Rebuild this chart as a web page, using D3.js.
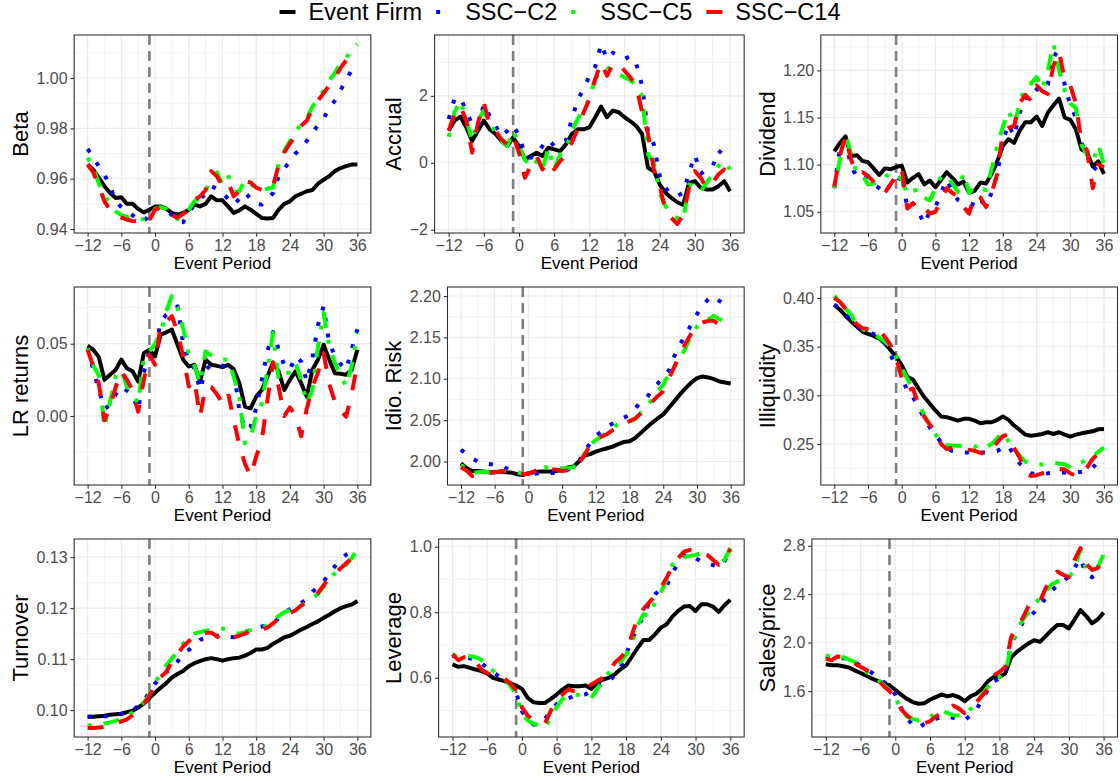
<!DOCTYPE html>
<html>
<head>
<meta charset="utf-8">
<script src="https://cdn.jsdelivr.net/npm/d3@7"></script>
<style>
  body { margin: 0; background: #fff; }
  svg { display: block; font-family: "Liberation Sans", Arial, Helvetica, sans-serif; }
</style>
</head>
<body>
<div id="chart"></div>
<script>
// ---- data ----
var periods = d3.range(-12, 37)
var xTicks = [-12, -6, 0, 6, 12, 18, 24, 30, 36]
var seriesNames = ["Event Firm", "SSC\u2212C2", "SSC\u2212C5", "SSC\u2212C14"]

var betaFirm = [0.9656,0.9636,0.9603,0.9570,0.9543,0.9523,0.9526,0.9500,0.9500,0.9480, 0.9466,0.9477,0.9490,0.9490,0.9480,0.9464,0.9457,0.9464,0.9477,0.9497, 0.9490,0.9500,0.9530,0.9514,0.9514,0.9490,0.9464,0.9474,0.9490,0.9477, 0.9460,0.9444,0.9442,0.9444,0.9477,0.9500,0.9510,0.9530,0.9540,0.9550, 0.9555,0.9580,0.9596,0.9610,0.9630,0.9642,0.9650,0.9656,0.9656]
var betaC2 = [0.9718,0.9685,0.9648,0.9615,0.9570,0.9510,0.9487,0.9468,0.9455,0.9435, 0.9432,0.9455,0.9477,0.9487,0.9477,0.9455,0.9430,0.9427,0.9465,0.9497, 0.9520,0.9540,0.9570,0.9560,0.9543,0.9520,0.9497,0.9520,0.9546,0.9520, 0.9500,0.9497,0.9520,0.9543,0.9610,0.9640,0.9670,0.9700,0.9720,0.9750, 0.9780,0.9815,0.9840,0.9880,0.9910,0.9950,0.9995,1.0030,1.0050]
var betaC5 = [0.9683,0.9645,0.9580,0.9535,0.9500,0.9470,0.9455,0.9448,0.9440,0.9435, 0.9440,0.9445,0.9480,0.9487,0.9480,0.9455,0.9440,0.9455,0.9477,0.9510, 0.9525,0.9550,0.9605,0.9625,0.9580,0.9615,0.9545,0.9550,0.9595,0.9580, 0.9560,0.9555,0.9560,0.9565,0.9660,0.9710,0.9750,0.9780,0.9825,0.9840, 0.9885,0.9920,0.9950,0.9990,1.0020,1.0060,1.0080,1.0110,1.0135]
var betaC14 = [0.9656,0.9625,0.9570,0.9510,0.9475,0.9455,0.9445,0.9437,0.9432,0.9430, 0.9420,0.9435,0.9477,0.9487,0.9475,0.9455,0.9445,0.9460,0.9477,0.9515, 0.9530,0.9555,0.9630,0.9610,0.9570,0.9585,0.9530,0.9550,0.9590,0.9585, 0.9565,0.9555,0.9555,0.9570,0.9655,0.9705,0.9740,0.9770,0.9810,0.9830, 0.9880,0.9910,0.9940,0.9970,1.0000,1.0040,1.0070,1.0095,1.0110]

var accFirm = [0.96,1.26,1.38,1.06,0.65,0.96,1.26,1.00,0.86,0.65, 0.50,0.75,0.50,0.10,0.20,0.30,0.20,0.45,0.40,0.35, 0.55,0.86,1.00,1.00,1.06,1.36,1.68,1.36,1.56,1.51, 1.36,1.24,1.10,0.86,-0.15,-0.25,-0.65,-0.90,-1.05,-1.18, -1.26,-0.60,-0.55,-0.75,-0.80,-0.80,-0.70,-0.55,-0.85]
var accC2 = [1.31,1.91,1.94,1.55,1.15,1.05,1.75,1.40,1.10,0.80, 0.95,1.13,0.80,0.25,0.15,0.25,0.50,0.70,0.50,0.62, 0.67,1.30,1.89,2.20,2.60,2.87,3.55,3.10,3.29,3.20, 3.10,3.19,2.95,2.30,0.90,0.55,-0.40,-0.75,-0.95,-0.99, -0.90,-0.30,0.23,-0.33,-0.20,-0.13,0.37,0.22,0.20]
var accC5 = [0.78,1.51,1.86,1.31,0.65,1.26,1.56,1.20,0.90,0.65, 0.50,0.96,0.50,0.10,-0.15,0.05,-0.20,0.45,-0.20,0.25, 0.40,0.96,1.30,1.60,1.90,2.52,2.70,2.87,2.70,2.65, 2.55,2.47,2.30,2.00,0.25,0.00,-0.90,-1.30,-1.56,-1.65, -1.71,-0.65,-0.70,-0.86,-0.60,-0.35,-0.10,0.05,-0.20]
var accC14 = [0.96,1.45,1.68,1.26,0.30,1.20,1.80,1.10,0.96,0.70, 0.55,0.80,0.30,-0.45,-0.10,0.20,-0.20,0.05,-0.20,0.05, 0.20,0.60,1.00,1.50,1.90,2.50,3.00,2.60,2.95,2.97, 2.75,2.55,2.30,1.50,0.86,-0.20,-0.70,-1.45,-1.65,-1.83, -1.55,-0.75,-0.25,-0.45,-0.75,-0.60,-0.35,-0.20,-0.45]

var divFirm = [1.114,1.123,1.130,1.109,1.110,1.104,1.1025,1.096,1.089,1.096, 1.095,1.0975,1.099,1.081,1.086,1.090,1.079,1.083,1.076,1.084, 1.092,1.086,1.079,1.082,1.070,1.0725,1.081,1.080,1.090,1.1035, 1.120,1.127,1.123,1.136,1.145,1.145,1.151,1.141,1.155,1.163, 1.170,1.150,1.1475,1.1375,1.116,1.113,1.098,1.1035,1.090]
var divC2 = [1.075,1.118,1.125,1.098,1.0875,1.090,1.085,1.079,1.075,1.070, 1.079,1.078,1.090,1.0535,1.059,1.050,1.037,1.050,1.055,1.070, 1.084,1.072,1.0625,1.060,1.0465,1.065,1.062,1.057,1.070,1.090, 1.125,1.143,1.130,1.155,1.171,1.170,1.180,1.178,1.185,1.218, 1.215,1.185,1.1625,1.150,1.123,1.110,1.093,1.100,1.107]
var divC5 = [1.075,1.105,1.132,1.111,1.091,1.089,1.079,1.080,1.081,1.086, 1.092,1.088,1.085,1.068,1.072,1.074,1.065,1.062,1.075,1.0875, 1.089,1.080,1.071,1.091,1.070,1.077,1.075,1.073,1.095,1.120, 1.140,1.157,1.141,1.165,1.184,1.186,1.193,1.180,1.200,1.228, 1.200,1.179,1.165,1.160,1.121,1.110,1.102,1.121,1.100]
var divC14 = [1.077,1.110,1.130,1.105,1.090,1.092,1.088,1.082,1.075,1.070, 1.079,1.088,1.096,1.0535,1.059,1.052,1.055,1.048,1.050,1.062, 1.075,1.070,1.066,1.055,1.048,1.068,1.065,1.055,1.070,1.090, 1.135,1.139,1.141,1.165,1.174,1.168,1.184,1.178,1.175,1.205, 1.220,1.190,1.184,1.165,1.123,1.115,1.075,1.100,1.0975]

var lrFirm = [0.0486,0.0458,0.0407,0.0250,0.0285,0.0320,0.0390,0.0330,0.0310,0.0238, 0.0435,0.0458,0.0412,0.0563,0.0579,0.0597,0.0493,0.0390,0.0343,0.0354, 0.0238,0.0390,0.0354,0.0347,0.0338,0.0354,0.0324,0.0227,0.0065,0.0053, 0.0134,0.0180,0.0273,0.0370,0.0308,0.0180,0.0250,0.0308,0.0227,0.0134, 0.0320,0.0390,0.0493,0.0390,0.0296,0.0292,0.0285,0.0320,0.0458]
var lrC2 = [0.047,0.032,0.018,0.005,0.0076,0.015,0.0204,0.0175,0.0146,0.004, 0.030,0.0447,0.044,0.0655,0.070,0.073,0.0759,0.050,0.0377,0.033, 0.018,0.032,0.0354,0.035,0.0347,0.034,0.032,0.004,-0.0097,-0.0074, 0.0053,0.025,0.045,0.058,0.046,0.035,0.032,0.0412,0.0377,0.024, 0.040,0.063,0.0759,0.050,0.042,0.036,0.032,0.046,0.060]
var lrC5 = [0.047,0.035,0.028,-0.008,0.010,0.028,0.032,0.0204,0.015,0.0088, 0.040,0.0447,0.050,0.0574,0.0725,0.083,0.0748,0.0609,0.0424,0.035, 0.0227,0.0447,0.042,0.040,0.039,0.039,0.0273,0.0134,-0.019,-0.0143, 0.000,0.0088,0.032,0.0574,0.025,0.0296,0.030,0.0366,0.025,0.0088, 0.018,0.048,0.0713,0.048,0.0366,0.028,0.0204,0.035,0.0574]
var lrC14 = [0.0458,0.0343,0.022,-0.003,0.0065,0.020,0.031,0.025,0.018,0.003, 0.025,0.0424,0.0354,0.0632,0.0655,0.069,0.058,0.0412,0.0204,0.025, -0.0005,0.0204,0.020,0.015,0.0088,0.0157,-0.0028,-0.020,-0.033,-0.0415, -0.028,-0.0167,0.0111,0.037,0.020,0.000,0.006,0.000,-0.014,0.005, 0.020,0.030,0.0435,0.022,0.010,0.004,-0.0005,0.015,0.037]

var idioFirm = [1.998,1.992,1.9886,1.9886,1.988,1.987,1.987,1.988,1.987,1.9866, 1.9846,1.9837,1.9858,1.987,1.988,1.988,1.988,1.9886,1.990,1.9927, 1.994,2.000,2.0073,2.009,2.012,2.014,2.016,2.018,2.021,2.0236, 2.0244,2.0285,2.0346,2.0407,2.0467,2.052,2.057,2.065,2.073,2.0813, 2.0886,2.0955,2.1008,2.1028,2.1016,2.0996,2.0967,2.0955,2.0943]
var idioC2 = [2.0142,2.009,2.004,2.000,1.998,1.997,1.996,1.995,1.992,1.988, 1.9846,1.9846,1.9846,1.985,1.986,1.986,1.986,1.986,1.988,1.990, 1.995,2.000,2.013,2.022,2.031,2.036,2.042,2.046,2.050,2.053, 2.056,2.064,2.072,2.076,2.087,2.094,2.102,2.110,2.128,2.142, 2.153,2.166,2.178,2.188,2.196,2.200,2.194,2.190,2.188]
var idioC5 = [1.996,1.990,1.9865,1.987,1.988,1.987,1.9875,1.988,1.9886,1.9886, 1.987,1.985,1.985,1.9886,1.992,1.993,1.992,1.991,1.992,1.992, 1.993,2.000,2.010,2.020,2.026,2.030,2.035,2.040,2.046,2.047, 2.048,2.051,2.059,2.064,2.076,2.085,2.093,2.106,2.115,2.124, 2.138,2.152,2.163,2.168,2.172,2.176,2.172,2.168,2.166]
var idioC14 = [1.993,1.989,1.9825,1.984,1.9846,1.986,1.987,1.988,1.9886,1.988, 1.986,1.985,1.985,1.988,1.991,1.9915,1.991,1.990,1.9886,1.9893, 1.990,1.998,2.008,2.020,2.027,2.030,2.033,2.038,2.041,2.046, 2.049,2.052,2.058,2.066,2.072,2.079,2.085,2.100,2.115,2.130, 2.143,2.155,2.165,2.168,2.170,2.170,2.165,2.162,2.160]

var illFirm = [0.3931,0.388,0.3817,0.3759,0.3707,0.3655,0.3631,0.361,0.3583,0.3534, 0.3466,0.3397,0.331,0.319,0.3162,0.3069,0.2983,0.2914,0.2845,0.2783, 0.2776,0.2759,0.2741,0.2759,0.2759,0.2741,0.2714,0.2724,0.2724,0.2748, 0.2783,0.2748,0.269,0.2645,0.2597,0.2586,0.2593,0.2603,0.2621,0.2603, 0.2621,0.2597,0.2576,0.2597,0.261,0.2621,0.2631,0.2652,0.2655]
var illC2 = [0.3931,0.389,0.383,0.3776,0.372,0.366,0.3645,0.363,0.362,0.353, 0.341,0.332,0.322,0.303,0.298,0.288,0.276,0.267,0.259,0.252, 0.246,0.243,0.2425,0.2414,0.2414,0.2414,0.2414,0.2414,0.242,0.243, 0.246,0.2483,0.238,0.230,0.225,0.220,0.219,0.2195,0.220,0.2207, 0.2207,0.2207,0.2207,0.2207,0.2215,0.2225,0.2259,0.232,0.238]
var illC5 = [0.402,0.396,0.389,0.383,0.3707,0.368,0.366,0.3638,0.359,0.3552, 0.350,0.340,0.3276,0.3172,0.305,0.294,0.2793,0.270,0.260,0.251, 0.249,0.2485,0.2483,0.248,0.2475,0.247,0.250,0.247,0.250,0.256, 0.2621,0.253,0.2448,0.238,0.232,0.230,0.2293,0.229,0.230,0.231, 0.230,0.2293,0.226,0.228,0.231,0.2345,0.238,0.242,0.2466]
var illC14 = [0.400,0.396,0.389,0.380,0.373,0.369,0.368,0.3675,0.3672,0.360, 0.3517,0.3379,0.318,0.305,0.3069,0.290,0.278,0.270,0.262,0.250, 0.2448,0.2466,0.2466,0.245,0.244,0.2431,0.241,0.2397,0.243,0.252, 0.258,0.260,0.246,0.236,0.220,0.2172,0.218,0.220,0.222,0.223, 0.224,0.2241,0.220,0.2172,0.219,0.226,0.235,0.240,0.2414]

var toFirm = [0.0987,0.0987,0.0988,0.0989,0.0991,0.0992,0.0993,0.0996,0.0999,0.1005, 0.1013,0.1024,0.1034,0.1044,0.1053,0.1064,0.1071,0.1077,0.1086,0.1092, 0.1096,0.1100,0.1102,0.1100,0.1097,0.1100,0.1102,0.1103,0.1107,0.1112, 0.1119,0.1119,0.1122,0.1130,0.1136,0.1143,0.1146,0.1152,0.1158,0.1163, 0.1169,0.1174,0.1181,0.1187,0.1194,0.1200,0.1204,0.1207,0.1214]
var toC2 = [0.0987,0.0987,0.0987,0.0988,0.0988,0.0990,0.0993,0.0996,0.1000,0.1008, 0.1018,0.1035,0.1052,0.1065,0.1075,0.1080,0.1095,0.1110,0.1118,0.1128, 0.1138,0.1142,0.1145,0.1146,0.1146,0.1144,0.1143,0.1148,0.1153,0.1158, 0.1162,0.1164,0.1166,0.1170,0.1180,0.1192,0.1198,0.1204,0.1210,0.1218, 0.1232,0.1242,0.1252,0.1268,0.1282,0.1295,0.1305,0.1310,0.1312]
var toC5 = [0.0970,0.0971,0.0972,0.0974,0.0976,0.0979,0.0983,0.0988,0.0996,0.1005, 0.1015,0.1030,0.1055,0.1070,0.1088,0.1101,0.1117,0.1130,0.1142,0.1150, 0.1153,0.1156,0.1158,0.1160,0.1160,0.1157,0.1152,0.1150,0.1153,0.1157, 0.1160,0.1163,0.1166,0.1175,0.1185,0.1192,0.1196,0.1200,0.1205,0.1212, 0.1220,0.1228,0.1242,0.1258,0.1268,0.1277,0.1285,0.1298,0.1316]
var toC14 = [0.0965,0.0965,0.0966,0.0967,0.0970,0.0974,0.0978,0.0982,0.0990,0.0998, 0.1012,0.1028,0.1050,0.1065,0.1075,0.1095,0.1110,0.1125,0.1135,0.1145, 0.1150,0.1152,0.1152,0.1145,0.1136,0.1138,0.1143,0.1146,0.1150,0.1155, 0.1160,0.1158,0.1162,0.1170,0.1180,0.1185,0.1190,0.1196,0.1205,0.1213, 0.1222,0.1230,0.1245,0.1260,0.1268,0.1278,0.1288,0.1298,0.1318]

var levFirm = [0.6408,0.6337,0.6357,0.6306,0.6255,0.6204,0.6133,0.600,0.5949,0.5898, 0.5827,0.5765,0.5663,0.5388,0.5255,0.5235,0.5235,0.5357,0.549,0.5643, 0.5765,0.5745,0.5745,0.5765,0.5663,0.5847,0.5949,0.600,0.6102,0.6255, 0.6378,0.6643,0.6918,0.7153,0.7153,0.7327,0.7531,0.7633,0.7867,0.8041, 0.8173,0.8194,0.8041,0.8245,0.8245,0.8173,0.801,0.8214,0.8378]
var levC2 = [0.668,0.662,0.662,0.660,0.655,0.645,0.630,0.618,0.605,0.600, 0.580,0.555,0.498,0.475,0.457,0.460,0.475,0.500,0.520,0.5286, 0.537,0.545,0.547,0.550,0.560,0.575,0.580,0.585,0.610,0.6306, 0.670,0.720,0.750,0.790,0.830,0.855,0.870,0.880,0.920,0.950, 0.970,0.980,0.965,0.955,0.950,0.944,0.938,0.955,0.990]
var levC5 = [0.6714,0.665,0.666,0.666,0.663,0.655,0.6357,0.622,0.6102,0.598, 0.575,0.550,0.490,0.470,0.460,0.455,0.447,0.480,0.510,0.535, 0.547,0.549,0.548,0.544,0.539,0.565,0.595,0.615,0.635,0.648, 0.670,0.707,0.760,0.794,0.789,0.830,0.860,0.900,0.945,0.960, 0.968,0.972,0.975,0.980,0.975,0.960,0.945,0.960,0.996]
var levC14 = [0.6714,0.654,0.663,0.666,0.650,0.625,0.615,0.606,0.605,0.597, 0.583,0.562,0.510,0.485,0.470,0.4622,0.4622,0.500,0.535,0.549, 0.5643,0.5595,0.560,0.565,0.580,0.590,0.600,0.615,0.645,0.6612, 0.680,0.730,0.785,0.810,0.830,0.850,0.875,0.905,0.940,0.965, 0.985,0.990,0.987,0.984,0.975,0.960,0.945,0.960,0.993]

var spFirm = [1.821,1.813,1.813,1.805,1.794,1.771,1.749,1.727,1.702,1.683, 1.666,1.647,1.611,1.570,1.536,1.509,1.495,1.500,1.528,1.550, 1.572,1.556,1.567,1.550,1.517,1.556,1.578,1.619,1.680,1.716, 1.716,1.744,1.876,1.923,1.959,1.993,2.020,2.006,2.053,2.103, 2.145,2.145,2.117,2.192,2.269,2.219,2.158,2.192,2.247]
var spC2 = [1.868,1.875,1.875,1.870,1.868,1.840,1.810,1.785,1.750,1.710, 1.675,1.650,1.570,1.460,1.380,1.320,1.295,1.330,1.355,1.370, 1.385,1.390,1.380,1.365,1.360,1.400,1.445,1.530,1.610,1.680, 1.702,1.750,1.980,2.080,2.160,2.210,2.250,2.300,2.370,2.430, 2.470,2.500,2.550,2.620,2.695,2.560,2.540,2.570,2.590]
var spC5 = [1.888,1.892,1.896,1.880,1.860,1.840,1.800,1.758,1.730,1.694, 1.650,1.611,1.550,1.450,1.390,1.370,1.357,1.360,1.384,1.420, 1.440,1.420,1.400,1.398,1.398,1.450,1.500,1.570,1.633,1.700, 1.716,1.744,1.965,2.103,2.186,2.250,2.310,2.370,2.421,2.480, 2.504,2.520,2.532,2.620,2.767,2.600,2.620,2.628,2.725]
var spC14 = [1.868,1.854,1.885,1.882,1.860,1.827,1.800,1.775,1.740,1.694, 1.640,1.600,1.550,1.450,1.400,1.360,1.335,1.335,1.350,1.390, 1.420,1.440,1.481,1.455,1.417,1.470,1.509,1.560,1.619,1.730, 1.758,1.799,2.040,2.145,2.200,2.300,2.352,2.340,2.450,2.546, 2.587,2.560,2.540,2.684,2.781,2.650,2.600,2.615,2.698]

// y breaks of each panel
var betaTicks = [0.94, 0.96, 0.98, 1.00]
var accTicks = [-2, 0, 2]
var divTicks = [1.05, 1.10, 1.15, 1.20]
var lrTicks = [0.00, 0.05]
var idioTicks = [2.00, 2.05, 2.10, 2.15, 2.20]
var illTicks = [0.25, 0.30, 0.35, 0.40]
var toTicks = [0.10, 0.11, 0.12, 0.13]
var levTicks = [0.6, 0.8, 1.0]
var spTicks = [1.6, 2.0, 2.4, 2.8]

var panels = [
  { label: "Beta", ticks: betaTicks, fmt: ".2f", series: [betaFirm, betaC2, betaC5, betaC14] },
  { label: "Accrual", ticks: accTicks, fmt: ".0f", series: [accFirm, accC2, accC5, accC14] },
  { label: "Dividend", ticks: divTicks, fmt: ".2f", series: [divFirm, divC2, divC5, divC14] },
  { label: "LR returns", ticks: lrTicks, fmt: ".2f", series: [lrFirm, lrC2, lrC5, lrC14] },
  { label: "Idio. Risk", ticks: idioTicks, fmt: ".2f", series: [idioFirm, idioC2, idioC5, idioC14] },
  { label: "Illiquidity", ticks: illTicks, fmt: ".2f", series: [illFirm, illC2, illC5, illC14] },
  { label: "Turnover", ticks: toTicks, fmt: ".2f", series: [toFirm, toC2, toC5, toC14] },
  { label: "Leverage", ticks: levTicks, fmt: ".1f", series: [levFirm, levC2, levC5, levC14] },
  { label: "Sales/price", ticks: spTicks, fmt: ".1f", series: [spFirm, spC2, spC5, spC14] }
]

// ---- styles ----
var lineStyles = [
  { color: "#000000", dash: null },
  { color: "#0000FF", dash: "4,12" },
  { color: "#00FF00", dash: "4,12,16,12" },
  { color: "#FF0000", dash: "16,16" }
]
var lineW = 4
var width = 1120, height = 781
var colW = width / 3
var plotH = 198
var rowTops = [35, 287, 539]

var svg = d3.select("#chart").append("svg")
  .attr("width", width)
  .attr("height", height)

function minorBreaks(major, lo, hi) {
  var step = major[1] - major[0]
  var out = []
  for (var k = -1; k < major.length; k++) {
    var v = major[0] + (k + 0.5) * step
    if (v > lo && v < hi) out.push(v)
  }
  return out
}

function drawPanel(p, i) {
  var col = i % 3, row = Math.floor(i / 3)
  var x0 = col * colW
  var top = rowTops[row], bottom = top + plotH
  var fmt = d3.format(p.fmt)

  // measure widest y tick label so the plot box sits like ggplot's
  var probe = svg.append("text").attr("font-size", 16)
  var maxW = d3.max(p.ticks, function(t) {
    probe.text(fmt(t))
    return probe.node().getComputedTextLength()
  })
  probe.remove()

  var left = x0 + 43 + maxW
  var right = x0 + colW - 2.5

  var x = d3.scaleLinear().domain([-14.4, 38.4]).range([left, right])
  var ext = d3.extent(d3.merge(p.series))
  var pad = (ext[1] - ext[0]) * 0.05
  var y = d3.scaleLinear().domain([ext[0] - pad, ext[1] + pad]).range([bottom, top])

  var g = svg.append("g")

  // grid
  var xMinor = minorBreaks(xTicks, x.domain()[0], x.domain()[1])
  var yMinor = minorBreaks(p.ticks, y.domain()[0], y.domain()[1])
  g.selectAll(".gxm").data(xMinor).enter().append("line")
    .attr("x1", x).attr("x2", x).attr("y1", top).attr("y2", bottom)
    .attr("stroke", "#EBEBEB").attr("stroke-width", 0.6)
  g.selectAll(".gym").data(yMinor).enter().append("line")
    .attr("x1", left).attr("x2", right).attr("y1", y).attr("y2", y)
    .attr("stroke", "#EBEBEB").attr("stroke-width", 0.6)
  g.selectAll(".gx").data(xTicks).enter().append("line")
    .attr("x1", x).attr("x2", x).attr("y1", top).attr("y2", bottom)
    .attr("stroke", "#EBEBEB").attr("stroke-width", 1.2)
  g.selectAll(".gy").data(p.ticks).enter().append("line")
    .attr("x1", left).attr("x2", right).attr("y1", y).attr("y2", y)
    .attr("stroke", "#EBEBEB").attr("stroke-width", 1.2)

  // event line
  g.append("line")
    .attr("x1", x(-1)).attr("x2", x(-1)).attr("y1", top).attr("y2", bottom)
    .attr("stroke", "#7F7F7F").attr("stroke-width", 2.6)
    .attr("stroke-dasharray", "10,6")

  // series
  var line = d3.line()
    .x(function(d) { return x(d[0]) })
    .y(function(d) { return y(d[1]) })
  p.series.forEach(function(vals, k) {
    var pts = periods.map(function(t, j) { return [t, vals[j]] })
    g.append("path")
      .datum(pts)
      .attr("d", line)
      .attr("fill", "none")
      .attr("stroke", lineStyles[k].color)
      .attr("stroke-width", lineW)
      .attr("stroke-linejoin", "round")
      .attr("stroke-dasharray", lineStyles[k].dash)
  })

  // border
  g.append("rect")
    .attr("x", left).attr("y", top)
    .attr("width", right - left).attr("height", plotH)
    .attr("fill", "none").attr("stroke", "#333333").attr("stroke-width", 1.1)

  // axes
  var ax = g.append("g")
    .attr("transform", "translate(0," + bottom + ")")
    .call(d3.axisBottom(x).tickValues(xTicks).tickSize(3.7).tickPadding(2.9).tickFormat(d3.format("d")))
  var ay = g.append("g")
    .attr("transform", "translate(" + left + ",0)")
    .call(d3.axisLeft(y).tickValues(p.ticks).tickSize(3.7).tickPadding(2.9).tickFormat(fmt))
  ;[ax, ay].forEach(function(a) {
    a.attr("font-size", null).attr("font-family", null)
    a.select(".domain").remove()
    a.selectAll(".tick line").attr("stroke", "#333333").attr("stroke-width", 1.1)
    a.selectAll(".tick text").attr("fill", "#4D4D4D").attr("font-size", 16)
  })

  // titles
  g.append("text")
    .attr("x", (left + right) / 2).attr("y", bottom + 36)
    .attr("text-anchor", "middle").attr("font-size", 17).attr("fill", "#000")
    .text("Event Period")
  g.append("text")
    .attr("transform", "translate(" + (x0 + 28) + "," + (top + plotH / 2) + ") rotate(-90)")
    .attr("text-anchor", "middle").attr("font-size", 22).attr("fill", "#000")
    .text(p.label)
}

panels.forEach(drawPanel)

// legend on top
var legend = svg.append("g")
var lx = 0
seriesNames.forEach(function(name, k) {
  var item = legend.append("g").attr("transform", "translate(" + lx + ",0)")
  item.append("line")
    .attr("x1", 0).attr("x2", 16).attr("y1", 12).attr("y2", 12)
    .attr("stroke", lineStyles[k].color).attr("stroke-width", lineW)
    .attr("stroke-dasharray", lineStyles[k].dash)
  var t = item.append("text")
    .attr("x", 29).attr("y", 20)
    .attr("font-size", 23.5).attr("fill", "#000")
    .text(name)
  lx += 29 + t.node().getComputedTextLength() + 14
})
legend.attr("transform", "translate(" + (width / 2 - (lx - 14) / 2) + ",0)")
</script>
</body>
</html>
